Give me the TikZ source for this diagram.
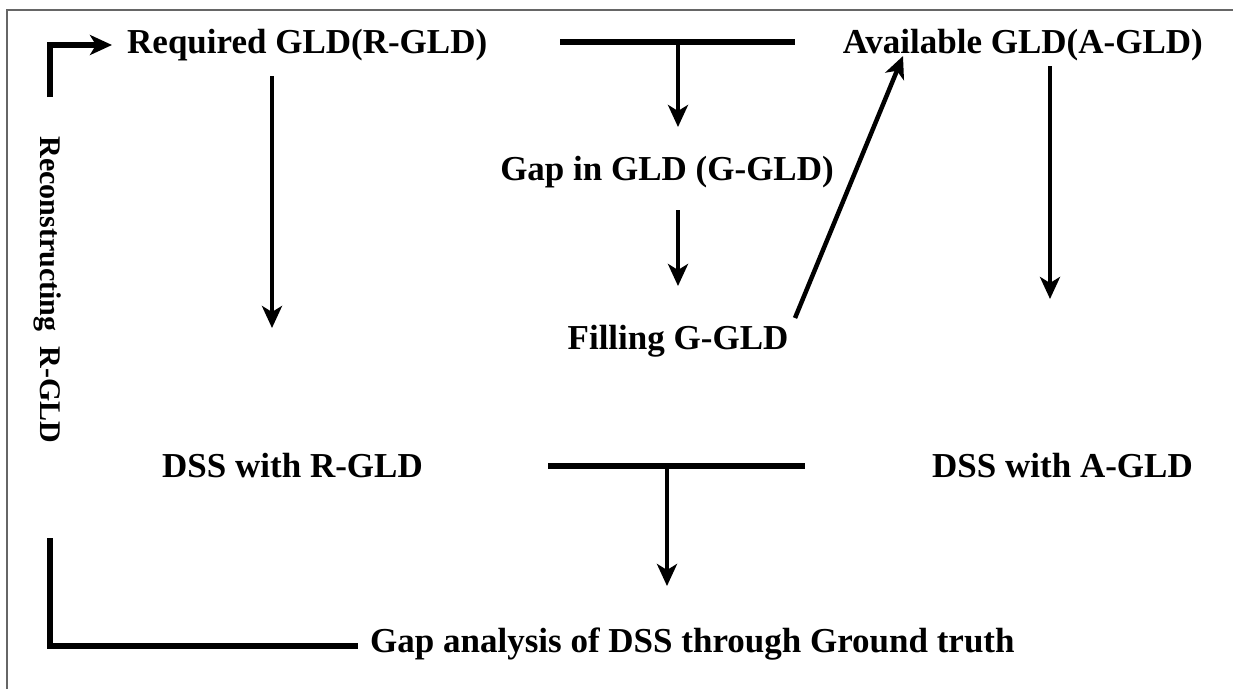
\documentclass[tikz,border=0pt]{standalone}
\usepackage{fontspec}
\setmainfont{Liberation Serif}
\usetikzlibrary{arrows.meta}
\begin{document}
\begin{tikzpicture}[x=1pt,y=-1pt,
  lbl/.style={font=\fontsize{35}{40}\selectfont\bfseries, inner sep=0pt},
  sidelbl/.style={font=\fontsize{30}{34}\selectfont\bfseries, inner sep=0pt, rotate=-90},
  conn/.style={line width=4.5pt, -{Stealth[length=22pt,width=20pt,inset=6pt]}},
  bar/.style={line width=6pt},
  elbow/.style={line width=6pt, line cap=butt},
  frameline/.style={draw=black!60, line width=1.6pt}]
\useasboundingbox (0,0) rectangle (1233,689);
% frame (left and top edges)
\coordinate (fb) at (7,689);
\coordinate (fc) at (7,10);
\coordinate (fr) at (1233,10);
\draw[frameline] (fb) -- (fc) -- (fr);

% texts
\node[lbl, anchor=base west] (R) at (127,53) {Required GLD(R-GLD)};
\node[lbl, anchor=base east] (A) at (1203,53) {Available GLD(A-GLD)};
\node[lbl, anchor=base] (G) at (667,180) {Gap in GLD (G-GLD)};
\node[lbl, anchor=base] (F) at (678,349) {Filling G-GLD};
\node[lbl, anchor=base west] (DR) at (162,477) {DSS with R-GLD};
\node[lbl, anchor=base east] (DA) at (1193,477) {DSS with A-GLD};
\node[lbl, anchor=base west] (GA) at (370,652) {Gap analysis of DSS through Ground truth};
\node[sidelbl, anchor=base] (S) at (40,290) {Reconstructing\ \ R-GLD};

% top-left elbow arrow into R
\coordinate (e1) at (50,97);
\coordinate (e2) at (50,45);
\coordinate (e3) at (112,45);
\draw[elbow, -{Stealth[length=22pt,width=20pt,inset=6pt]}] (e1) -- (e2) -- (e3);

% top T bar to G
\coordinate (t1) at (560,42);
\coordinate (t2) at (795,42);
\coordinate (tm) at (678,42);
\coordinate (tg) at (678,127);
\draw[bar] (t1) -- (t2);
\draw[conn] (tm) -- (tg);

% G to F
\coordinate (g1) at (678,210);
\coordinate (g2) at (678,286);
\draw[conn] (g1) -- (g2);

% F to A diagonal
\coordinate (d1) at (795,318);
\coordinate (d2) at (903,56);
\draw[conn] (d1) -- (d2);

% R down
\coordinate (r1) at (272,76);
\coordinate (r2) at (272,328);
\draw[conn] (r1) -- (r2);

% A down
\coordinate (a1) at (1050,66);
\coordinate (a2) at (1050,299);
\draw[conn] (a1) -- (a2);

% bottom T bar to GA
\coordinate (b1) at (548,466);
\coordinate (b2) at (805,466);
\coordinate (bm) at (667,466);
\coordinate (bg) at (667,586);
\draw[bar] (b1) -- (b2);
\draw[conn] (bm) -- (bg);

% bottom-left elbow
\coordinate (l1) at (50,538);
\coordinate (l2) at (50,646);
\coordinate (l3) at (358,646);
\draw[elbow] (l1) -- (l2) -- (l3);
\end{tikzpicture}
\end{document}
